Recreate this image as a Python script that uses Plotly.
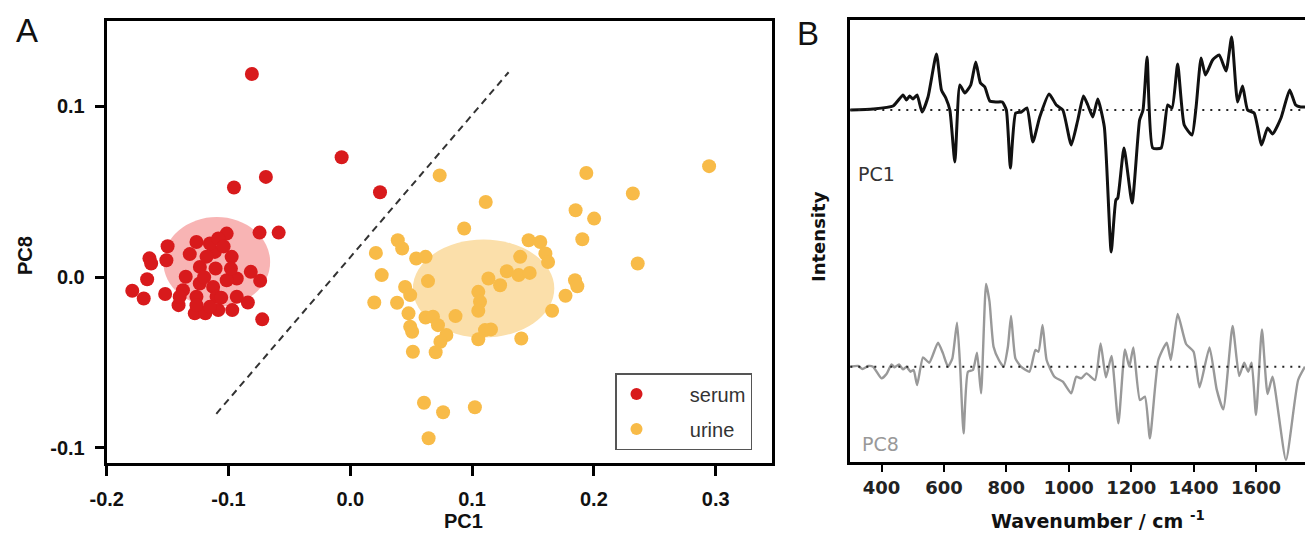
import plotly.graph_objects as go

# ---------------- Panel A data (PCA scores) ----------------
serum_pc1 = [-0.0808, -0.0693, -0.0955, -0.0745, -0.0588, -0.150, -0.1649, -0.1635, -0.151, -0.1668,
             -0.179, -0.1696, -0.152, -0.141, -0.1277, -0.119, -0.1084, -0.0969, -0.0841, -0.0723,
             -0.074, -0.0817, -0.0932, -0.0974, -0.1015, -0.1112, -0.1106, -0.1235, -0.1263, -0.1318,
             -0.1153, -0.1084, -0.1351, -0.1374, -0.1236, -0.1126, -0.1015, -0.0932, -0.1098, -0.1263,
             -0.1401, -0.1263, -0.1153, -0.0071, 0.0244, -0.104, -0.118, -0.106, -0.120, -0.098]
serum_pc8 = [0.119, 0.0587, 0.0525, 0.0261, 0.0261, 0.0181, 0.011, 0.008, 0.0099, -0.0012,
             -0.008, -0.0125, -0.0099, -0.0164, -0.0212, -0.0212, -0.0193, -0.0193, -0.0148, -0.0247,
             -0.0021, 0.0031, -0.0008, 0.0119, 0.0255, 0.0148, 0.0051, 0.006, 0.0206, 0.0135,
             0.0197, 0.0226, 0.0002, -0.0076, -0.0037, -0.0057, -0.0018, -0.0115, -0.0115, -0.0115,
             -0.0115, -0.0164, -0.0174, 0.0702, 0.0497, 0.018, 0.012, -0.012, 0.0, 0.005]

urine_pc1 = [0.0734, 0.1112, 0.0935, 0.1938, 0.232, 0.185, 0.2002, 0.1905, 0.236, 0.039,
             0.0426, 0.021, 0.0541, 0.0618, 0.0258, 0.0638, 0.045, 0.0492, 0.0197, 0.0384,
             0.0478, 0.0618, 0.0679, 0.0864, 0.0492, 0.072, 0.0508, 0.0789, 0.074, 0.0514,
             0.0701, 0.1051, 0.1065, 0.1051, 0.1134, 0.123, 0.1285, 0.1382, 0.1473, 0.1395,
             0.1464, 0.156, 0.1602, 0.1624, 0.1106, 0.1051, 0.1155, 0.1404, 0.1657, 0.1767,
             0.1845, 0.1864, 0.0605, 0.0762, 0.1023, 0.0643, 0.2946]
urine_pc8 = [0.0596, 0.044, 0.0285, 0.061, 0.049, 0.0392, 0.0343, 0.0222, 0.008, 0.0216,
             0.0168, 0.0142, 0.0109, 0.0119, 0.0012, -0.0023, -0.0057, -0.0105, -0.0148, -0.015,
             -0.0212, -0.0236, -0.0232, -0.0228, -0.029, -0.0281, -0.032, -0.0339, -0.0378, -0.0437,
             -0.044, -0.0086, -0.0144, -0.0197, -0.0008, -0.0047, 0.0035, 0.0012, 0.0025, 0.0119,
             0.0216, 0.0206, 0.0139, 0.0089, -0.031, -0.0364, -0.0306, -0.0359, -0.0197, -0.0109,
             -0.0018, -0.0053, -0.0735, -0.0791, -0.0762, -0.0943, 0.065]

# confidence ellipses: [x0, x1, y0, y1]
serum_ellipse = [-0.1535, -0.0658, -0.0174, 0.0352]
urine_ellipse = [0.0514, 0.1675, -0.0354, 0.022]
# separating dashed line endpoints
sep_line_x = [-0.11, 0.13]
sep_line_y = [-0.08, 0.12]

# ---------------- Panel B data (loadings) ----------------
wn_pc1 = [300, 373, 437, 469, 480, 490, 501, 514, 530, 549, 576, 592, 606, 619, 635, 651, 667, 686, 702, 717,
          731, 747, 768, 787, 800, 813, 830, 848, 866, 885, 907, 937, 960, 981, 1008, 1029, 1047, 1061, 1077, 1093,
          1114, 1136, 1151, 1157, 1177, 1203, 1227, 1238, 1251, 1269, 1296, 1317, 1331, 1349, 1370, 1395, 1408, 1424,
          1438, 1461, 1482, 1504, 1522, 1541, 1557, 1573, 1594, 1618, 1637, 1653, 1680, 1708, 1727, 1743, 1757]
load_pc1 = [0, 1, 4, 15, 10, 14, 11, 15, -2, 13, 56, 20, 12, 0, -52, 25, 17, 25, 48, 27,
            23, 9, 8, 8, 0, -58, -3, -2, 2, -32, -7, 16, 5, 0, -35, -10, 14, 5, -7, 11,
            -17, -142, -90, -88, -38, -93, -10, 0, 53, -38, -38, 5, 2, 46, -15, -25, 3, 52,
            35, 50, 55, 39, 73, 8, 24, 0, -3, -35, -18, -24, -8, 20, 5, 3, 3]

wn_pc8 = [300, 325, 339, 357, 373, 400, 416, 432, 442, 456, 469, 480, 493, 503, 514, 533, 553, 581, 597, 613,
          627, 642, 652, 663, 677, 693, 706, 719, 735, 746, 759, 776, 791, 805, 815, 829, 847, 874, 893, 903,
          916, 929, 954, 981, 1008, 1024, 1040, 1057, 1084, 1102, 1119, 1137, 1159, 1180, 1194, 1207, 1228, 1244,
          1260, 1287, 1314, 1327, 1349, 1376, 1400, 1419, 1451, 1474, 1495, 1525, 1546, 1562, 1575, 1586, 1600,
          1619, 1637, 1653, 1696, 1735, 1757]
load_pc8 = [0, 0.7, -2.3, 0.7, 0, -11.7, -7.3, 2.3, -0.7, 2.3, -2.7, 0, -5, -3.3, -18.3, 9.3, 4, 24, 13.3, 0,
            8.3, 44, 0, -66.7, -5, -3.3, 14, -26.7, 82.7, 65, 20, 6.7, 0, 20, 50.7, 8.3, 0, -5, 16.7, 15,
            41.7, 6.7, -10, -15, -26.7, -10, -11.7, -6.7, -13.3, 23.3, -10.7, 10.7, -56.7, 17.3, 0, 19.3, -33.3, -30,
            -71.7, 6.7, 24, 6.7, 52.7, 22.7, 15, -20.7, 19.3, -22.7, -42.7, 40.7, -9.3, 4, -5, 4, -48.3,
            37.3, -27.3, -10, -93.3, -13.3, 0]

pc1_offset = 352.3
pc8_offset = 95.6

a_xticks = [-0.2, -0.1, 0.0, 0.1, 0.2, 0.3]
a_yticks = [-0.1, 0.0, 0.1]
b_xticks = [400, 600, 800, 1000, 1200, 1400, 1600]

SERUM = "#d81a1c"
URINE = "#f8bb48"

fig = go.Figure()

fig.add_trace(go.Scatter(x=serum_pc1, y=serum_pc8, mode="markers", name="\u00a0\u00a0\u00a0\u00a0\u00a0\u00a0serum",
                         marker=dict(color=SERUM, size=14, line=dict(width=0)), xaxis="x", yaxis="y",
                         legendgroup="s"))
fig.add_trace(go.Scatter(x=urine_pc1, y=urine_pc8, mode="markers", name="\u00a0\u00a0\u00a0\u00a0\u00a0\u00a0urine",
                         marker=dict(color=URINE, size=14, line=dict(width=0)), xaxis="x", yaxis="y",
                         legendgroup="u"))
fig.add_trace(go.Scatter(x=sep_line_x, y=sep_line_y, mode="lines", showlegend=False,
                         line=dict(color="#333333", width=2, dash="7px,5px"), xaxis="x", yaxis="y"))

fig.add_trace(go.Scatter(x=wn_pc1, y=[v + pc1_offset for v in load_pc1], mode="lines", showlegend=False,
                         line=dict(color="#111111", width=3, shape="spline", smoothing=0.5),
                         xaxis="x2", yaxis="y2"))
fig.add_trace(go.Scatter(x=wn_pc8, y=[v + pc8_offset for v in load_pc8], mode="lines", showlegend=False,
                         line=dict(color="#999999", width=2.4, shape="spline", smoothing=0.5),
                         xaxis="x2", yaxis="y2"))

shapes = [
    dict(type="circle", xref="x", yref="y", x0=serum_ellipse[0], x1=serum_ellipse[1],
         y0=serum_ellipse[2], y1=serum_ellipse[3], fillcolor="#f8b4b4", line=dict(width=0), layer="below"),
    dict(type="circle", xref="x", yref="y", x0=urine_ellipse[0], x1=urine_ellipse[1],
         y0=urine_ellipse[2], y1=urine_ellipse[3], fillcolor="#fbdfaa", line=dict(width=0), layer="below"),
    dict(type="line", xref="x2", yref="y2", x0=300, x1=1757, y0=pc1_offset, y1=pc1_offset,
         line=dict(color="#222222", width=2, dash="2px,6px")),
    dict(type="line", xref="x2", yref="y2", x0=300, x1=1757, y0=pc8_offset, y1=pc8_offset,
         line=dict(color="#222222", width=2, dash="2px,6px")),
]

W, H = 1305, 534
def px(x):
    return x / W
def py(y):
    return 1 - y / H

annotations = [
    dict(text="A", x=px(27), y=py(30), font=dict(family="Liberation Sans, Arial", size=33, color="#111")),
    dict(text="B", x=px(808), y=py(33), font=dict(family="Liberation Sans, Arial", size=33, color="#111")),
    dict(text="<b>PC1</b>", x=px(463), y=py(521), font=dict(family="Liberation Sans, Arial", size=20, color="#111")),
    dict(text="<b>PC8</b>", x=px(25), y=py(255), textangle=-90,
         font=dict(family="Liberation Sans, Arial", size=20, color="#111")),
    dict(text="<b>Intensity</b>", x=px(818), y=py(237), textangle=-90,
         font=dict(family="DejaVu Sans", size=18, color="#111")),
    dict(text="<b>Wavenumber / cm <sup>-1</sup></b>", x=px(1098), y=py(520),
         font=dict(family="DejaVu Sans", size=19, color="#111")),
    dict(text="PC1", x=px(856), y=py(174), xanchor="left", font=dict(family="DejaVu Sans", size=19, color="#333")),
    dict(text="PC8", x=px(860), y=py(444), xanchor="left", font=dict(family="DejaVu Sans", size=19, color="#999")),
]
for a in annotations:
    a.setdefault("xref", "paper")
    a.setdefault("yref", "paper")
    a.setdefault("showarrow", False)
    a.setdefault("xanchor", "center")
    a.setdefault("yanchor", "middle")

fig.update_layout(
    width=W, height=H, margin=dict(l=0, r=0, t=0, b=0, autoexpand=False),
    paper_bgcolor="white", plot_bgcolor="white",
    shapes=shapes, annotations=annotations,
    xaxis=dict(domain=[106.7 / W, 771.7 / W], range=[-0.2, 0.346], tickvals=a_xticks,
               ticktext=["-0.2", "-0.1", "0.0", "0.1", "0.2", "0.3"], automargin=False,
               showline=True, linewidth=3, linecolor="black", mirror=True, ticks="outside",
               ticklen=10, tickwidth=3, tickcolor="black", showgrid=False, zeroline=False,
               tickfont=dict(family="Liberation Sans, Arial", size=20, color="#111", weight="bold"),
               ticklabelstandoff=6),
    yaxis=dict(domain=[1 - 463.3 / H, 1 - 21 / H], range=[-0.109, 0.15], tickvals=a_yticks,
               ticktext=["-0.1", "0.0", "0.1"], automargin=False,
               showline=True, linewidth=3, linecolor="black", mirror=True, ticks="outside",
               ticklen=9, tickwidth=3, tickcolor="black", showgrid=False, zeroline=False,
               tickfont=dict(family="Liberation Sans, Arial", size=20, color="#111", weight="bold"),
               ticklabelstandoff=6),
    xaxis2=dict(domain=[850 / W, 1.0], range=[299, 1757], tickvals=b_xticks, automargin=False,
                showline=True, linewidth=3, linecolor="black", mirror=True, ticks="outside",
                ticklen=7, tickwidth=2, tickcolor="black", showgrid=False, zeroline=False,
                tickfont=dict(family="DejaVu Sans", size=18, color="#222", weight="bold"),
                anchor="y2"),
    yaxis2=dict(domain=[1 - 462.3 / H, 1 - 20 / H], range=[0, 442.3], showline=True, linewidth=3,
                linecolor="black", mirror=False, showticklabels=False, ticks="", showgrid=False,
                zeroline=False, anchor="x2", automargin=False),
    legend=dict(x=615 / W, y=1 - 373 / H, xanchor="left", yanchor="top",
                bordercolor="#555555", borderwidth=1.5, bgcolor="white",
                font=dict(family="Liberation Sans, Arial", size=20, color="#333"),
                traceorder="grouped", tracegroupgap=6, itemsizing="constant"),
    showlegend=True,
)

fig.write_html("out.html")
